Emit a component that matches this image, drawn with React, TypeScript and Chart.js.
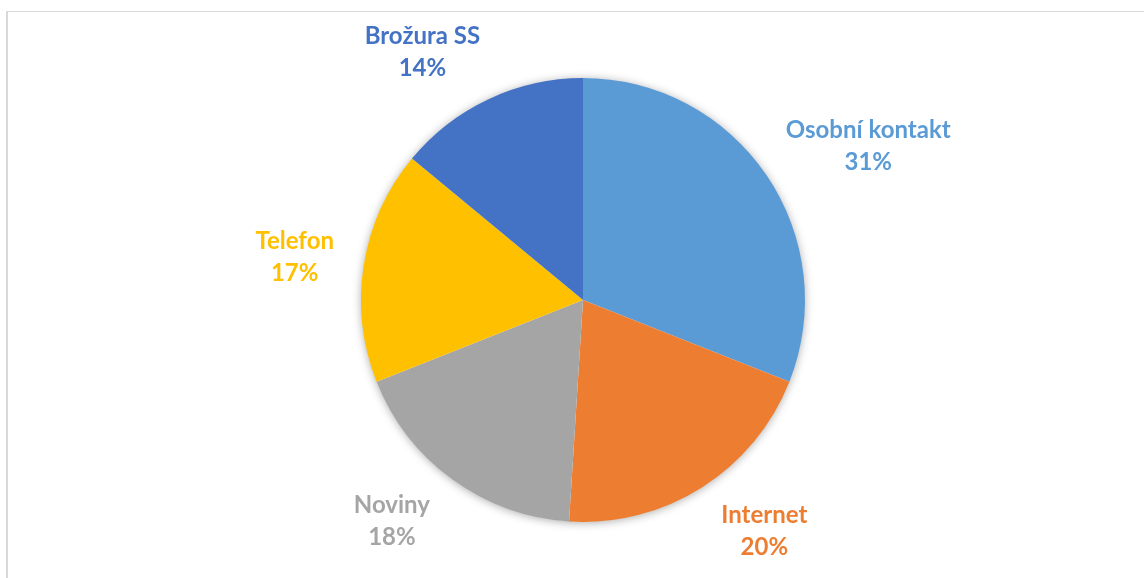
import React, { useEffect, useRef } from "react";
import { Chart, registerables } from "chart.js";

Chart.register(...registerables);

const categories = ["Osobní kontakt", "Internet", "Noviny", "Telefon", "Brožura SS"];
const values = [31, 20, 18, 17, 14];
const colors = ["#5B9BD5", "#ED7D31", "#A5A5A5", "#FFC000", "#4472C4"];

const FONT = "bold 24px Lato, 'Open Sans', sans-serif";
const LINE_H = 32;

const shadowPlugin = {
  id: "pieShadow",
  beforeDatasetsDraw(chart: any) {
    const meta = chart.getDatasetMeta(0);
    const arc = meta.data[0];
    if (!arc) return;
    const { x, y, outerRadius } = arc.getProps(["x", "y", "outerRadius"], true);
    const ctx = chart.ctx;
    ctx.save();
    ctx.shadowColor = "rgba(0,0,0,0.35)";
    ctx.shadowBlur = 10;
    ctx.shadowOffsetX = 0;
    ctx.shadowOffsetY = 1;
    ctx.beginPath();
    ctx.arc(x, y, outerRadius - 0.5, 0, Math.PI * 2);
    ctx.fillStyle = "#ffffff";
    ctx.fill();
    ctx.restore();
  },
};

const labelPlugin = {
  id: "outsideLabels",
  afterDatasetsDraw(chart: any) {
    const meta = chart.getDatasetMeta(0);
    const ctx = chart.ctx;
    const data: number[] = chart.data.datasets[0].data;
    const total = data.reduce((a, b) => a + b, 0);
    ctx.save();
    ctx.font = FONT;
    ctx.textAlign = "center";
    ctx.textBaseline = "middle";
    meta.data.forEach((arc: any, i: number) => {
      const { x, y, startAngle, endAngle, outerRadius } = arc.getProps(
        ["x", "y", "startAngle", "endAngle", "outerRadius"],
        true
      );
      const mid = (startAngle + endAngle) / 2;
      const dx = Math.cos(mid);
      const dy = Math.sin(mid);
      const lines = [chart.data.labels[i], Math.round((data[i] / total) * 100) + "%"];
      const w = Math.max(...lines.map((l: string) => ctx.measureText(l).width));
      const h = LINE_H * lines.length;
      const gapX = 30;
      const gapY = 20;
      const spread = 50 * Math.sign(dx) * (1 - Math.abs(dx));
      const cx = x + dx * (outerRadius + gapX) + (dx * w) / 2 + spread;
      const cy = y + dy * (outerRadius + gapY) + (dy * h) / 2;
      ctx.fillStyle = colors[i];
      lines.forEach((l: string, k: number) => {
        ctx.fillText(l, cx, cy - h / 2 + LINE_H / 2 + k * LINE_H);
      });
    });
    ctx.restore();
  },
};

export default function App() {
  const ref = useRef<HTMLCanvasElement | null>(null);
  useEffect(() => {
    if (!ref.current) return;
    const chart = new Chart(ref.current, {
      type: "pie",
      data: {
        labels: categories,
        datasets: [
          {
            data: values,
            backgroundColor: colors,
            borderWidth: 0,
          },
        ],
      },
      options: {
        animation: false,
        responsive: false,
        layout: { padding: { left: 22, right: 0, top: 78, bottom: 56 } },
        plugins: {
          legend: { display: false },
          tooltip: { enabled: false },
        },
        events: [],
      },
      plugins: [shadowPlugin, labelPlugin],
    });
    return () => chart.destroy();
  }, []);
  return (
    <div
      style={{
        position: "fixed",
        left: 0,
        top: 0,
        width: 1144,
        height: 578,
        background: "#ffffff",
        overflow: "hidden",
      }}
    >
      <div
        style={{
          position: "absolute",
          left: 6,
          top: 11,
          width: 1200,
          height: 700,
          borderTop: "1px solid #d9d9d9",
          borderLeft: "2px solid #d9d9d9",
        }}
      />
      <canvas
        ref={ref}
        width={1144}
        height={578}
        style={{ position: "absolute", left: 0, top: 0, width: 1144, height: 578 }}
      />
    </div>
  );
}
